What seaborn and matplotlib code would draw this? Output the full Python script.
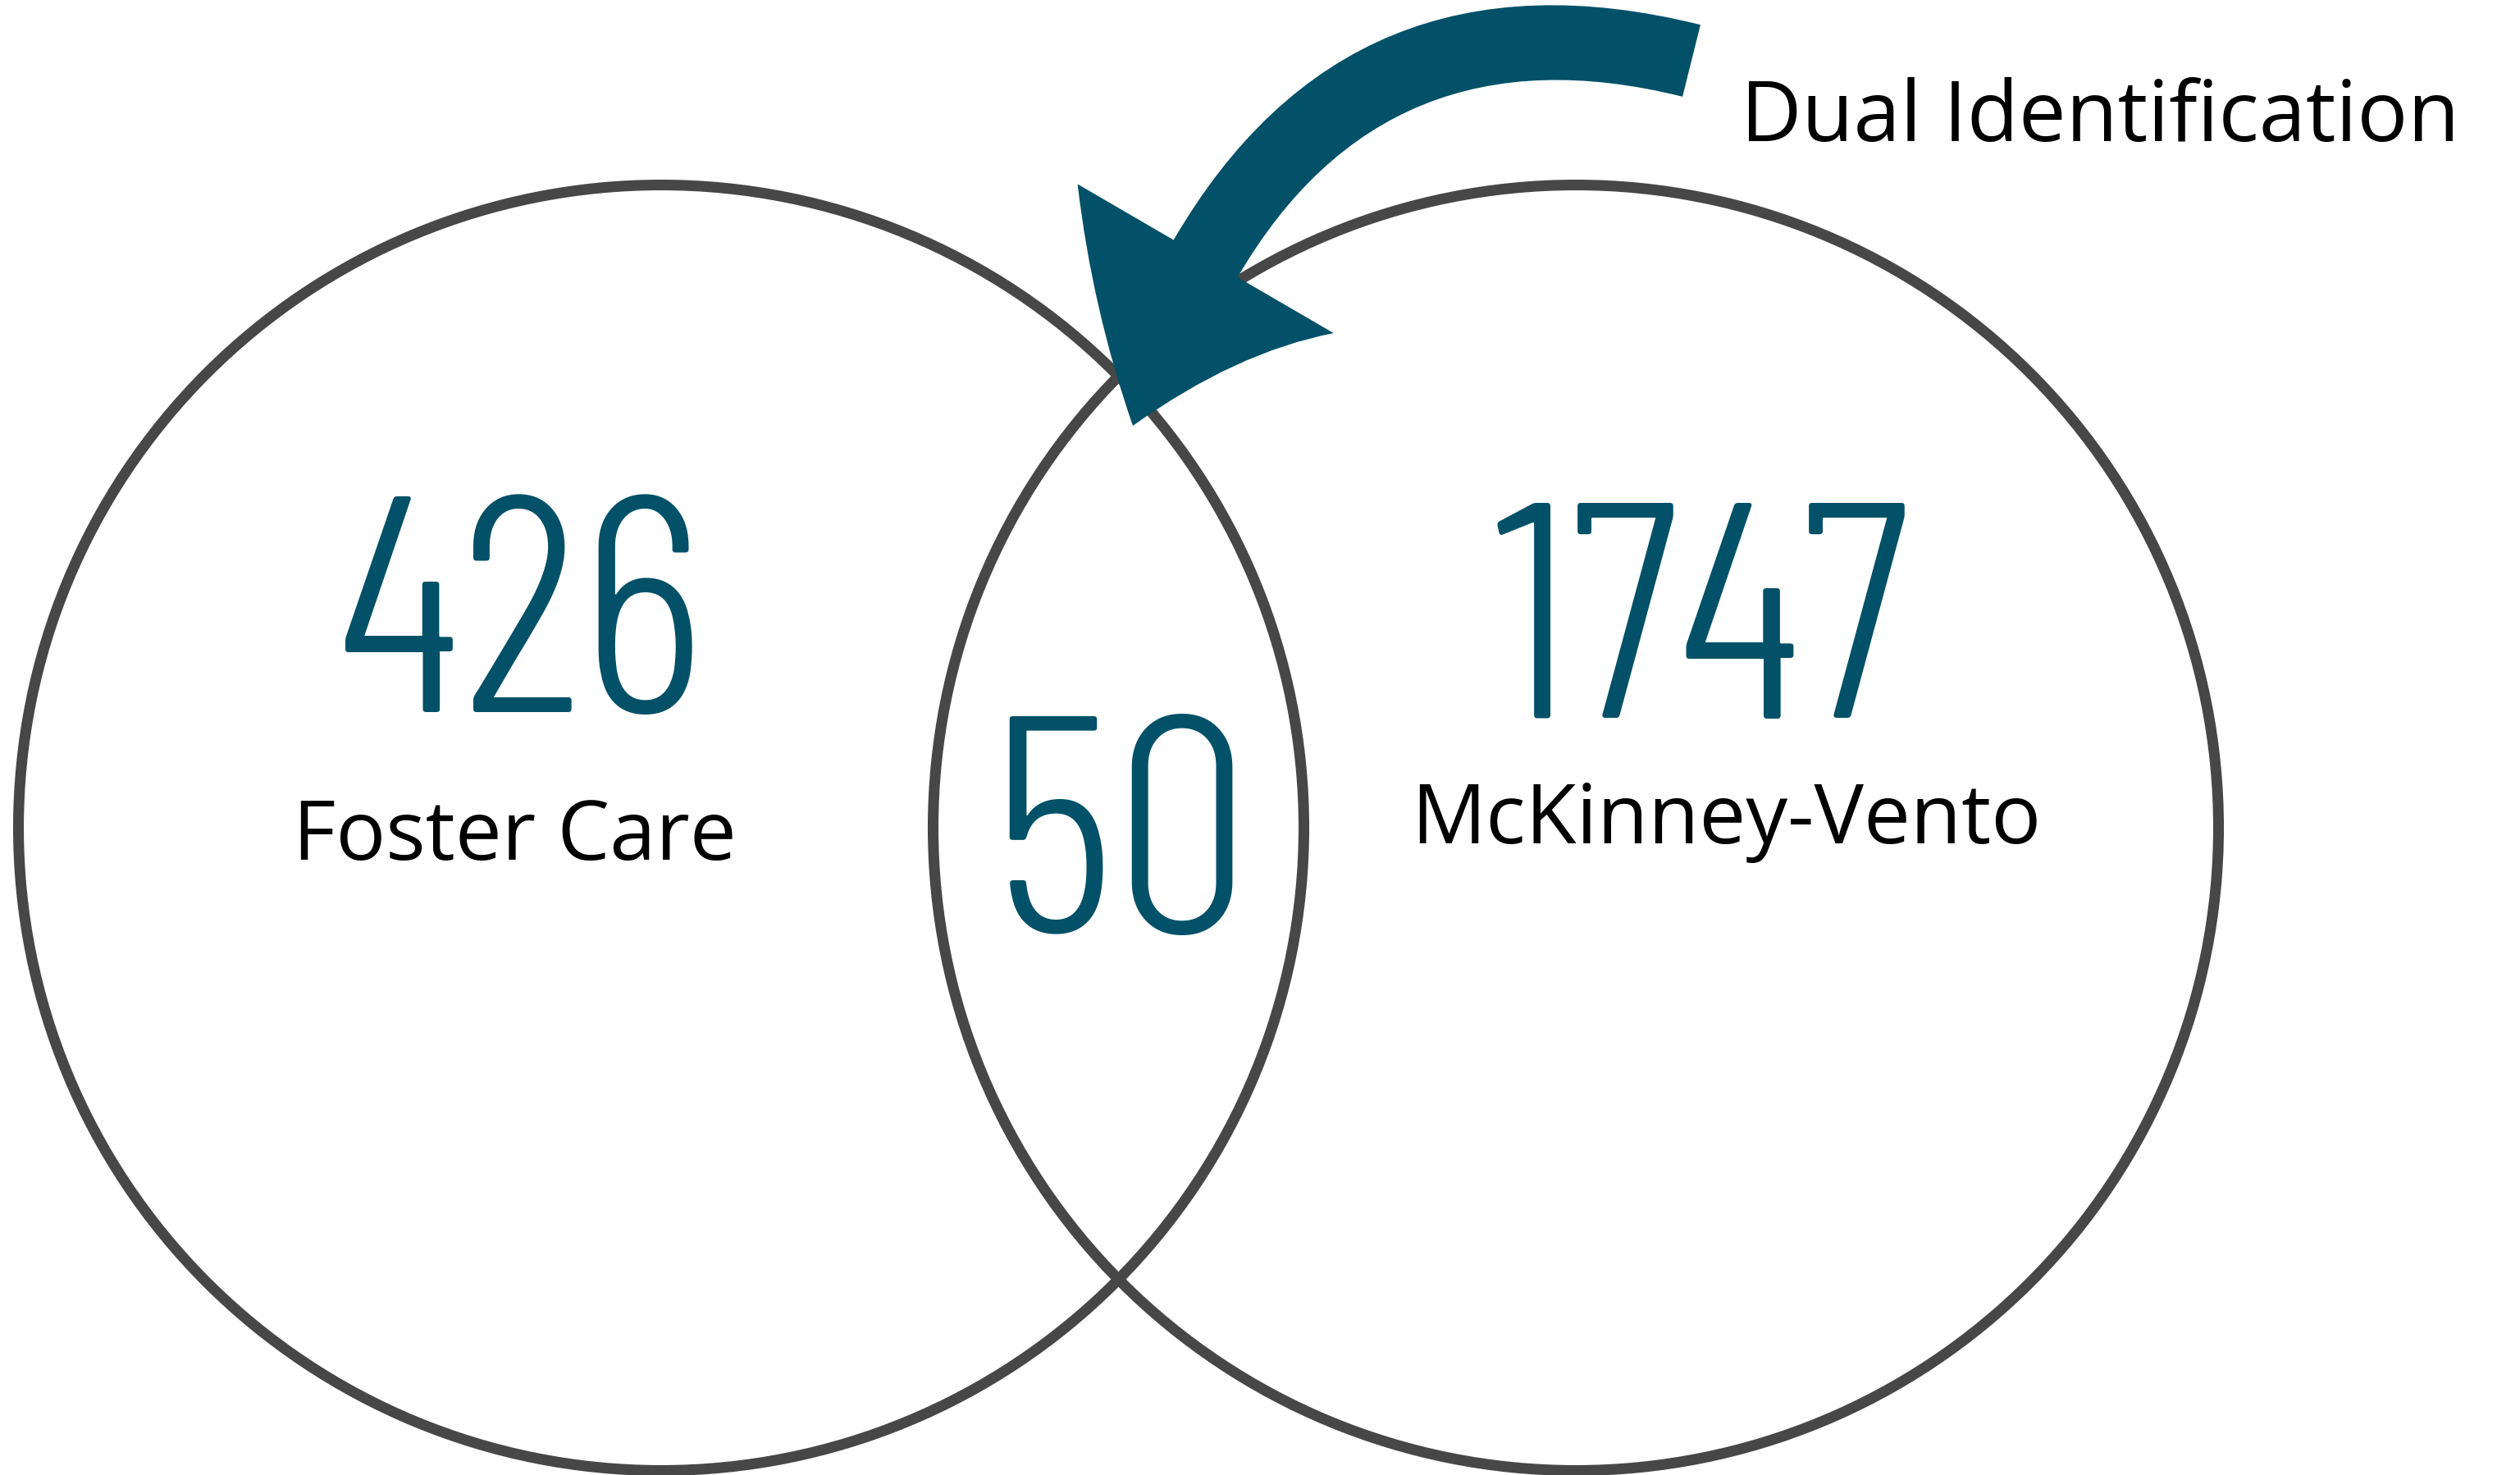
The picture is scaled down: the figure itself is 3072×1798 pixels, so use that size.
import seaborn as sns
import matplotlib.pyplot as plt
from matplotlib.patches import Circle
from matplotlib import font_manager

sns.set_theme(style="white")

# data
set_names = ["Foster Care", "McKinney-Vento"]
only_counts = [426, 1747]
both_count = 50
overlap_label = "Dual Identification"

teal = "#025168"
ring = "#474747"

names = {f.name for f in font_manager.fontManager.ttflist}
num_font = "Barlow Condensed" if "Barlow Condensed" in names else "Roboto Condensed"
plt.rcParams["font.family"] = ["Open Sans", "DejaVu Sans"]

fig = plt.figure(figsize=(30.72, 17.98), dpi=100)
ax = fig.add_axes([0, 0, 1, 1])
ax.set_xlim(0, 3072)
ax.set_ylim(1798, 0)
ax.set_aspect("equal")
ax.axis("off")

# two rings
centers = [(806, 1009), (1921, 1009)]
for c in centers:
    ax.add_patch(Circle(c, 783.5, fill=False, ec=ring, lw=9.4, zorder=1))

# counts and set names
num_pos = [(635, 868), (2075, 876)]
lab_pos = [(627, 1048), (2104, 1028)]
for n, v, p, q in zip(set_names, only_counts, num_pos, lab_pos):
    ax.text(p[0], p[1], str(v), color=teal, fontsize=270, family=num_font, fontweight=300,
            ha="center", va="baseline", zorder=3)
    ax.text(q[0], q[1], n, color="black", fontsize=73, ha="center", va="baseline", zorder=3)
ax.text(1366, 1136, str(both_count), color=teal, fontsize=270, family=num_font, fontweight=300,
        ha="center", va="baseline", zorder=3)

# overlap callout
ax.text(2122, 172, overlap_label, color="black", fontsize=74, ha="left", va="baseline", zorder=3)
ax.annotate("", xy=(1381, 519), xytext=(2062, 74),
            arrowprops=dict(arrowstyle="simple,head_length=1.6,head_width=2.6,tail_width=0.65",
                            connectionstyle="angle3,angleA=166,angleB=72",
                            fc=teal, ec=teal, lw=0, mutation_scale=100,
                            shrinkA=0, shrinkB=0),
            zorder=4)

fig.savefig("out.png", dpi=100, facecolor="white")
